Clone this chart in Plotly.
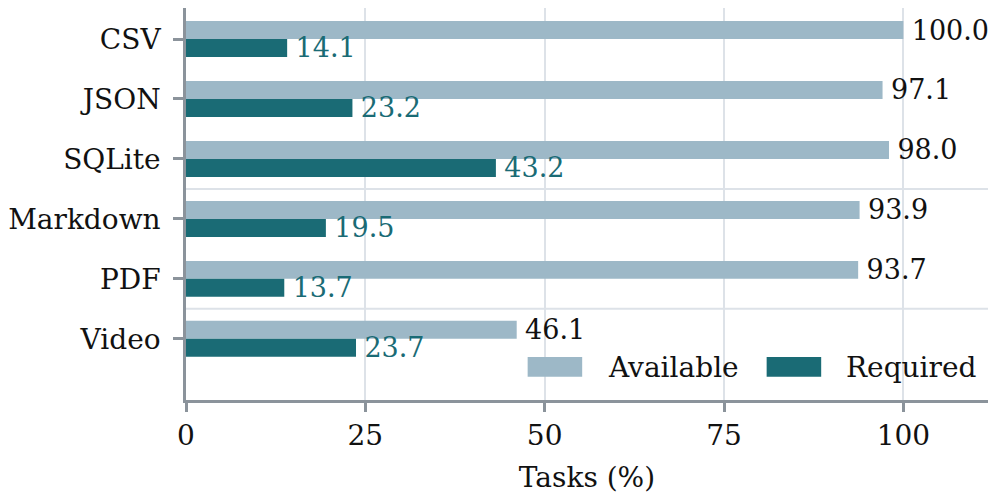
import plotly.graph_objects as go

categories = ["CSV", "JSON", "SQLite", "Markdown", "PDF", "Video"]
available = [100.0, 97.1, 98.0, 93.9, 93.7, 46.1]
required = [14.1, 23.2, 43.2, 19.5, 13.7, 23.7]
series_names = ["Available", "Required"]
x_ticks = [0, 25, 50, 75, 100]

FONT = "DejaVu Serif"
C_AVAIL = "#9db8c7"
C_REQ = "#1a6b75"
SPINE = "#8b939b"
GRID = "#dde2e8"

fig = go.Figure()

# bars, available on top of each pair
fig.add_trace(go.Bar(
    y=categories, x=available, orientation="h", name=series_names[0],
    marker=dict(color=C_AVAIL, line=dict(width=0)),
    text=["\u2009" + f"{v:.1f}" for v in available],
    textposition="outside", constraintext="none", cliponaxis=False,
    textfont=dict(family=FONT, size=27, color="#111111"),
    showlegend=False))
fig.add_trace(go.Bar(
    y=categories, x=required, orientation="h", name=series_names[1],
    marker=dict(color=C_REQ, line=dict(width=0)),
    text=["\u2009" + f"{v:.1f}" for v in required],
    textposition="outside", constraintext="none", cliponaxis=False,
    textfont=dict(family=FONT, size=27, color=C_REQ),
    showlegend=False))

# horizontal grid lines between some groups
for yv in [2.5, 4.5]:
    fig.add_shape(type="line", xref="paper", yref="y", x0=0, x1=1, y0=yv, y1=yv,
                  line=dict(color=GRID, width=2), layer="below")

# hand drawn legend with wide swatches
legend_pos = [(0.426, 0.494, 0.524), (0.724, 0.792, 0.821)]
for name, col, (sx0, sx1, tx) in zip(series_names, [C_AVAIL, C_REQ], legend_pos):
    fig.add_shape(type="rect", xref="paper", yref="paper",
                  x0=sx0, x1=sx1, y0=0.059, y1=0.110,
                  fillcolor=col, line=dict(width=0))
    fig.add_annotation(text=name, xref="paper", yref="paper", x=tx, y=0.084,
                       xanchor="left", yanchor="middle", showarrow=False,
                       font=dict(family=FONT, size=28, color="#111111"))

# page has an 8px body margin, keep the figure inside the window (no scrollbars)
fig.update_layout(
    width=980, height=486,
    barmode="group", bargap=0.4, bargroupgap=0,
    margin=dict(l=173, r=0, t=0, b=94),
    plot_bgcolor="white", paper_bgcolor="white",
    font=dict(family=FONT, size=28, color="#111111"),
    xaxis=dict(range=[0, 111.8], tickvals=x_ticks, showgrid=True,
               gridcolor=GRID, gridwidth=2, zeroline=False,
               showline=True, linecolor=SPINE, linewidth=2.5,
               ticks="outside", ticklen=9, tickwidth=2.5, tickcolor=SPINE,
               tickfont=dict(family=FONT, size=28, color="#111111"),
               title=dict(text="Tasks (%)", standoff=22,
                          font=dict(family=FONT, size=28, color="#111111"))),
    yaxis=dict(type="category", categoryorder="array", categoryarray=categories,
               range=[6.02, -0.517], showgrid=False, zeroline=False,
               showline=True, linecolor=SPINE, linewidth=2.5,
               ticks="outside", ticklen=10, tickwidth=2.5, tickcolor=SPINE,
               ticklabelstandoff=7,
               tickfont=dict(family=FONT, size=28, color="#111111")),
)

fig.write_html("out.html")
